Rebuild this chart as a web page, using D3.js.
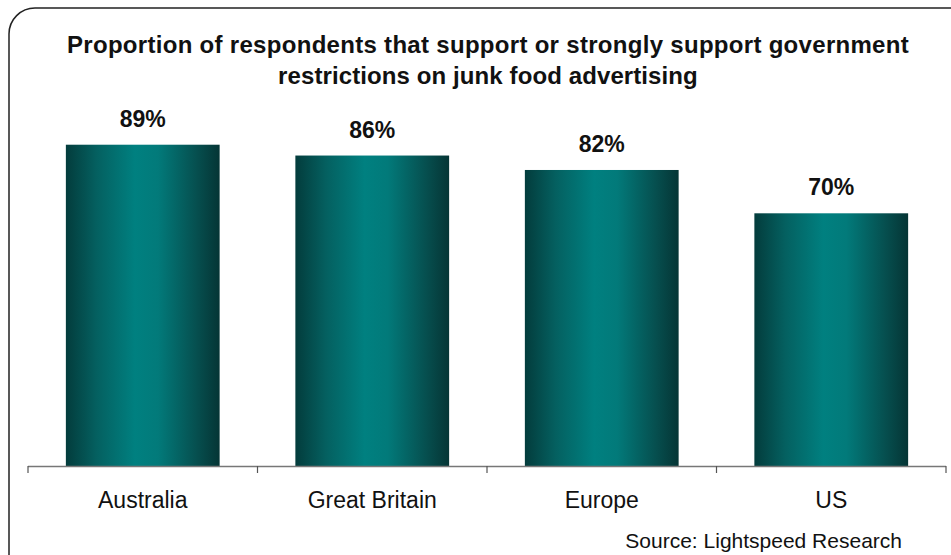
<!DOCTYPE html>
<html><head><meta charset="utf-8">
<script src="https://cdn.jsdelivr.net/npm/d3@7"></script>
<style>body{margin:0;background:#fff}svg{display:block}text{font-family:"Liberation Sans",Arial,sans-serif}</style>
</head><body>
<script>
const categories = ["Australia", "Great Britain", "Europe", "US"];
const values = [89, 86, 82, 70];
const valueLabels = ["89%", "86%", "82%", "70%"];
const titleLines = ["Proportion of respondents that support or strongly support government", "restrictions on junk food advertising"];
const sourceText = "Source: Lightspeed Research";

const W = 951, H = 555;
const svg = d3.select("body").append("svg").attr("width", W).attr("height", H);

const defs = svg.append("defs");
const grad = defs.append("linearGradient").attr("id", "barGrad").attr("x1", "0%").attr("x2", "100%").attr("y1", "0%").attr("y2", "0%");
[[0, "#033c3c"], [0.2, "#046060"], [0.45, "#008080"], [0.6, "#027a7a"], [0.85, "#064f4f"], [1, "#053535"]].forEach(([o, c]) =>
  grad.append("stop").attr("offset", o).attr("stop-color", c));

// border
svg.append("rect").attr("x", 9).attr("y", 8).attr("width", 970).attr("height", 580)
  .attr("rx", 26).attr("ry", 26).attr("fill", "none").attr("stroke", "#222").attr("stroke-width", 1.5);

// title
svg.append("g").selectAll("text").data(titleLines).join("text")
  .attr("x", 488).attr("y", (d, i) => 53 + i * 31)
  .attr("text-anchor", "middle").attr("font-size", 24).attr("font-weight", "bold").attr("fill", "#111")
  .attr("letter-spacing", (d, i) => i === 0 ? 0.3 : 0.1)
  .text(d => d);

const x0 = 28, x1 = 946, baseY = 466;
const x = d3.scaleBand().domain(categories).range([x0, x1]).paddingInner(0.33).paddingOuter(0.165);
const y = d3.scaleLinear().domain([0, 100]).range([baseY, baseY - 361]);

svg.append("g").selectAll("rect").data(categories).join("rect")
  .attr("x", d => x(d)).attr("width", x.bandwidth())
  .attr("y", (d, i) => y(values[i])).attr("height", (d, i) => baseY - y(values[i]))
  .attr("fill", "url(#barGrad)");

svg.append("g").selectAll("text").data(categories).join("text")
  .attr("x", d => x(d) + x.bandwidth() / 2)
  .attr("y", (d, i) => y(values[i]) - 18)
  .attr("text-anchor", "middle").attr("font-size", 23).attr("font-weight", "bold").attr("fill", "#111")
  .text((d, i) => valueLabels[i]);

// axis
const xAxisScale = d3.scalePoint().domain(d3.range(categories.length + 1)).range([x0, x1]);
const axisG = svg.append("g").attr("transform", `translate(0,${baseY})`);
axisG.append("line").attr("x1", x0).attr("x2", x1).attr("y1", 0.5).attr("y2", 0.5).attr("stroke", "#777").attr("stroke-width", 1.3);
axisG.selectAll("line.tick").data(xAxisScale.domain()).join("line").attr("class", "tick")
  .attr("x1", d => xAxisScale(d)).attr("x2", d => xAxisScale(d)).attr("y1", 0).attr("y2", 7)
  .attr("stroke", "#555").attr("stroke-width", 1.2);

svg.append("g").selectAll("text").data(categories).join("text")
  .attr("x", d => x(d) + x.bandwidth() / 2).attr("y", 508)
  .attr("text-anchor", "middle").attr("font-size", 23).attr("fill", "#111")
  .text(d => d);

svg.append("text").attr("x", 902).attr("y", 548).attr("text-anchor", "end")
  .attr("font-size", 21).attr("fill", "#111").text(sourceText);
</script>
</body></html>
